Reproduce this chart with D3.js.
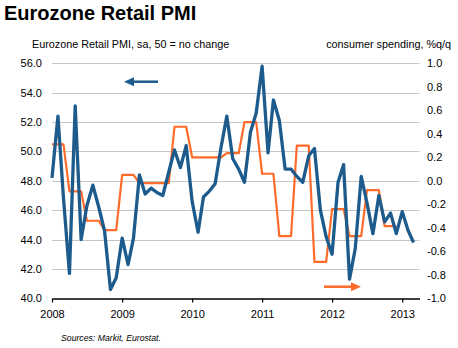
<!DOCTYPE html>
<html>
<head>
<meta charset="utf-8">
<script src="https://cdn.jsdelivr.net/npm/d3@7"></script>
<style>
  body { margin: 0; background: #fff; }
  svg { font-family: "Liberation Sans", Arial, sans-serif; }
</style>
</head>
<body>
<svg id="chart" width="458" height="348"></svg>
<script>
// Eurozone Retail PMI, monthly, Jan 2008 .. Mar 2013
const startMonth = new Date(2008, 0, 1);
const pmi = [
    48.2, 52.4, 46.8, 41.7, 53.1, 44.0, 46.3, 47.7, 46.2, 44.6, 40.6, 41.4, // 2008
    44.1, 42.3, 44.1, 48.4, 47.1, 47.5, 47.2, 47.0, 48.6, 50.1, 48.9, 50.4, // 2009
    46.6, 44.5, 46.9, 47.3, 47.8, 50.3, 52.4, 49.5, 48.8, 47.9, 51.3, 52.6, // 2010
    55.8, 49.9, 53.5, 52.1, 48.8, 48.8, 48.3, 47.9, 49.7, 50.2, 46.0, 44.2, // 2011
    43.0, 47.9, 49.1, 41.3, 43.4, 48.3, 46.5, 44.4, 47.0, 45.2, 45.8, 44.4, // 2012
    45.9, 44.6, 43.8                                                          // 2013
];

// consumer spending %q/q, one value per quarter, Q1 2008 .. Q4 2012
const spending = [
    0.31, -0.09, -0.34, -0.42,
    0.05, -0.02, -0.02, 0.46,
    0.20, 0.20, 0.235, 0.50,
    0.06, -0.47, 0.30, -0.69,
    -0.24, -0.47, -0.08, -0.385
];

const leftTicks = [40, 42, 44, 46, 48, 50, 52, 54, 56];
const rightTicks = [-10, -8, -6, -4, -2, 0, 2, 4, 6, 8, 10].map(d => d / 10);
const yearTicks = [2008, 2009, 2010, 2011, 2012, 2013];

const svg = d3.select("#chart");

const plot = {left: 52, right: 419.5, top: 63.3, bottom: 298.3};

const x = d3.scaleTime()
    .domain([startMonth, d3.timeMonth.offset(startMonth, 63)])
    .range([plot.left, plot.right]);
const yL = d3.scaleLinear().domain([40, 56]).range([plot.bottom, plot.top]);
const yR = d3.scaleLinear().domain([-1, 1]).range([plot.bottom, plot.top]);

// monthly points
const pmiData = pmi.map((v, i) => ({date: d3.timeMonth.offset(startMonth, i), value: v}));
// each quarter is shown for its three months
const spendData = [];
spending.forEach((v, q) => {
    for (let m = 0; m < 3; m++) {
        spendData.push({date: d3.timeMonth.offset(startMonth, q * 3 + m), value: v});
    }
});

// titles
svg.append("text")
    .attr("x", 4).attr("y", 20)
    .style("font-size", "20px").style("font-weight", "bold")
    .text("Eurozone Retail PMI");
svg.append("text")
    .attr("x", 32).attr("y", 47.5)
    .style("font-size", "10.8px")
    .text("Eurozone Retail PMI, sa, 50 = no change");
svg.append("text")
    .attr("x", 451).attr("y", 47.5)
    .attr("text-anchor", "end")
    .style("font-size", "10.8px")
    .text("consumer spending, %q/q");

// gridlines
svg.append("g")
    .selectAll("line")
    .data(leftTicks.filter(d => d > 40))
    .enter()
    .append("line")
    .attr("x1", plot.left).attr("x2", plot.right)
    .attr("y1", d => Math.round(yL(d)) + 0.5)
    .attr("y2", d => Math.round(yL(d)) + 0.5)
    .style("stroke", "#c6c6c6")
    .style("stroke-width", 1);

// left axis labels
let leftAxis = svg.append("g")
    .attr("transform", "translate(" + plot.left + ",0)")
    .call(d3.axisLeft(yL).tickValues(leftTicks).tickSize(0).tickPadding(10)
        .tickFormat(d => d.toFixed(1)));
leftAxis.select(".domain").remove();

// right axis labels
let rightAxis = svg.append("g")
    .attr("transform", "translate(" + (plot.right - 0.5) + ",0)")
    .call(d3.axisRight(yR).tickValues(rightTicks).tickSize(0).tickPadding(8)
        .tickFormat(d => d.toFixed(1)));
rightAxis.select(".domain").remove();

[leftAxis, rightAxis].forEach(g => {
    g.selectAll("text")
        .style("font-size", "11px")
        .style("font-family", "'Liberation Sans', Arial, sans-serif")
        .style("fill", "#000");
});

// x axis
let xAxis = svg.append("g")
    .attr("transform", "translate(0," + (Math.round(plot.bottom) + 0.5) + ")")
    .call(d3.axisBottom(x)
        .tickValues(yearTicks.map(y => new Date(y, 0, 1)))
        .tickSize(4).tickSizeOuter(0).tickPadding(8)
        .tickFormat(d3.timeFormat("%Y")));
xAxis.select(".domain").style("stroke", "#000").style("stroke-width", 1.5);
xAxis.selectAll(".tick line").style("stroke", "#000").style("stroke-width", 1.2);
xAxis.selectAll("text")
    .style("font-size", "11px")
    .style("font-family", "'Liberation Sans', Arial, sans-serif")
    .style("fill", "#000");

// lines
const spendLine = d3.line()
    .x(d => x(d.date))
    .y(d => yR(d.value));
const pmiLine = d3.line()
    .x(d => x(d.date))
    .y(d => yL(d.value));

svg.append("path")
    .datum(spendData)
    .attr("d", spendLine)
    .style("fill", "none")
    .style("stroke", "#ff6b2b")
    .style("stroke-width", 2.2)
    .style("stroke-linejoin", "round");

svg.append("path")
    .datum(pmiData)
    .attr("d", pmiLine)
    .style("fill", "none")
    .style("stroke", "#1d5b8c")
    .style("stroke-width", 3.3)
    .style("stroke-linejoin", "round");

// arrows pointing at the axis for each series
function arrow(x1, x2, y, color, pointLeft) {
    let tip = pointLeft ? x1 : x2;
    let base = pointLeft ? x1 + 10 : x2 - 10;
    svg.append("line")
        .attr("x1", pointLeft ? base : x1).attr("x2", pointLeft ? x2 : base)
        .attr("y1", y).attr("y2", y)
        .style("stroke", color).style("stroke-width", 2.5);
    svg.append("path")
        .attr("d", "M" + tip + "," + y + "L" + base + "," + (y - 4.5) + "L" + base + "," + (y + 4.5) + "Z")
        .style("fill", color);
}
arrow(124, 158, 81.7, "#1d5b8c", true);
arrow(324, 361, 286.7, "#ff6b2b", false);

// source note
svg.append("text")
    .attr("x", 61).attr("y", 341)
    .style("font-size", "8.7px").style("font-style", "italic")
    .text("Sources: Markit, Eurostat.");
</script>
</body>
</html>
